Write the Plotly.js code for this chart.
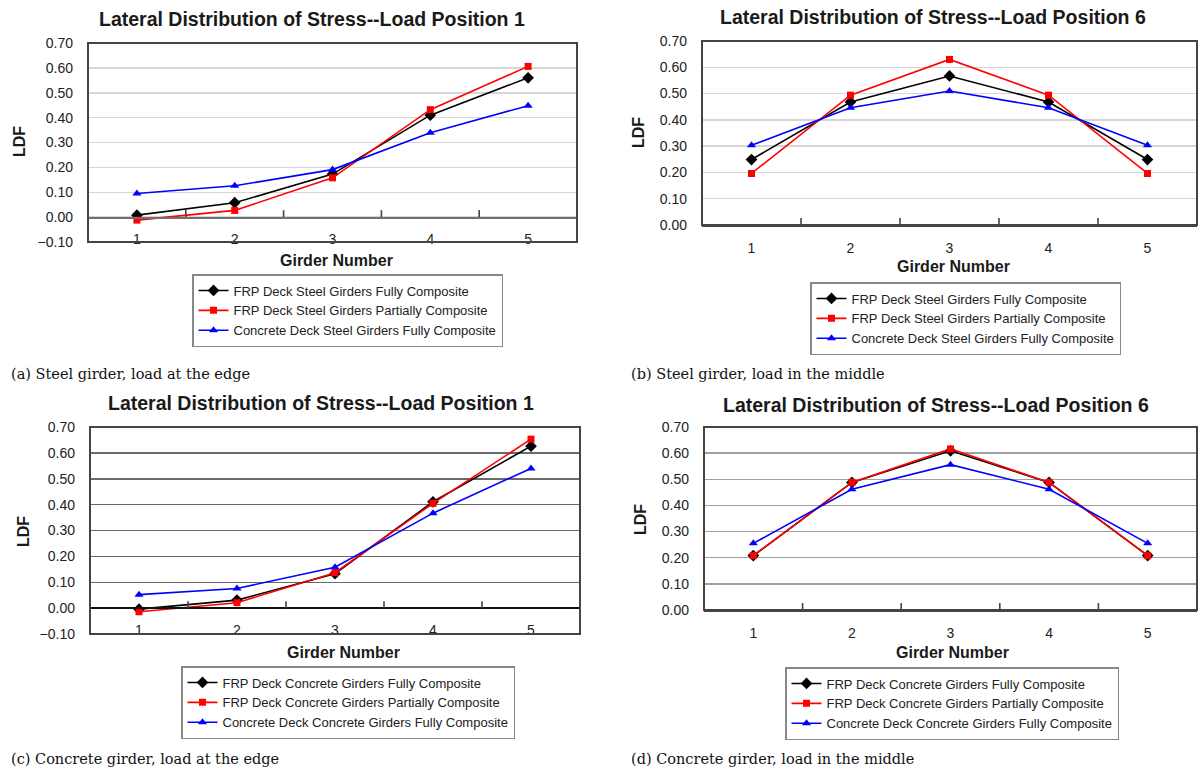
<!DOCTYPE html>
<html>
<head>
<meta charset="utf-8">
<script src="https://cdn.plot.ly/plotly-3.0.1.min.js"></script>
<style>
  html, body { margin: 0; padding: 0; background: #fff; }
  #chart { width: 1200px; height: 769px; }
</style>
</head>
<body>
<div id="chart"></div>
<script>
// ---------- data ----------
const girders = [1, 2, 3, 4, 5];

const seriesSteel = [
  "FRP Deck Steel Girders Fully Composite",
  "FRP Deck Steel Girders Partially Composite",
  "Concrete Deck Steel Girders Fully Composite"
];
const seriesConcrete = [
  "FRP Deck Concrete Girders Fully Composite",
  "FRP Deck Concrete Girders Partially Composite",
  "Concrete Deck Concrete Girders Fully Composite"
];

// (a) Steel girder, load at the edge
const a_frpFull    = [0.008, 0.058, 0.173, 0.410, 0.560];
const a_frpPartial = [-0.012, 0.027, 0.158, 0.432, 0.606];
const a_concFull   = [0.095, 0.126, 0.191, 0.339, 0.448];

// (b) Steel girder, load in the middle
const b_frpFull    = [0.249, 0.468, 0.567, 0.468, 0.249];
const b_frpPartial = [0.196, 0.494, 0.630, 0.494, 0.196];
const b_concFull   = [0.303, 0.446, 0.510, 0.446, 0.303];

// (c) Concrete girder, load at the edge
const c_frpFull    = [-0.004, 0.031, 0.133, 0.411, 0.626];
const c_frpPartial = [-0.014, 0.021, 0.137, 0.405, 0.653];
const c_concFull   = [0.052, 0.076, 0.158, 0.367, 0.540];

// (d) Concrete girder, load in the middle
const d_frpFull    = [0.208, 0.488, 0.609, 0.488, 0.208];
const d_frpPartial = [0.208, 0.488, 0.616, 0.488, 0.208];
const d_concFull   = [0.255, 0.462, 0.556, 0.462, 0.255];

const panelTitles = [
  "Lateral Distribution of Stress--Load Position 1",
  "Lateral Distribution of Stress--Load Position 6",
  "Lateral Distribution of Stress--Load Position 1",
  "Lateral Distribution of Stress--Load Position 6"
];
const captions = [
  "(a) Steel girder, load at the edge",
  "(b) Steel girder, load in the middle",
  "(c) Concrete girder, load at the edge",
  "(d) Concrete girder, load in the middle"
];
const xTitle = "Girder Number";
const yTitle = "LDF";

// ---------- layout geometry (pixels) ----------
const W = 1200, H = 769;
const px = v => v / W;
const py = v => 1 - v / H;

const panels = [
  { data: [a_frpFull, a_frpPartial, a_concFull], names: seriesSteel,
    box: [88, 577, 43, 242], yr: [-0.1, 0.7], grid: "#d6d6d6", zero: "#707070", zw: 1.5,
    title: [312, 19], ytl: [20, 142], xtl: [336, 260], leg: [192, 274], cap: [9, 374] },
  { data: [b_frpFull, b_frpPartial, b_concFull], names: seriesSteel,
    box: [702, 1197, 41, 225], yr: [0, 0.7], grid: "#d6d6d6", zero: "#444", zw: 2,
    title: [933, 17], ytl: [638, 133], xtl: [953, 266], leg: [810, 282], cap: [629, 374] },
  { data: [c_frpFull, c_frpPartial, c_concFull], names: seriesConcrete,
    box: [90, 580, 427, 634], yr: [-0.1, 0.7], grid: "#6a6a6a", zero: "#111", zw: 2,
    title: [321, 403], ytl: [23, 532], xtl: [343, 652], leg: [181, 666], cap: [9, 759] },
  { data: [d_frpFull, d_frpPartial, d_concFull], names: seriesConcrete,
    box: [704, 1197, 427, 610], yr: [0, 0.7], grid: "#a0a0a0", zero: "#444", zw: 2,
    title: [936, 405], ytl: [640, 520], xtl: [952, 652], leg: [785, 667], cap: [629, 759] }
];

const styles = [
  { color: "#000000", symbol: "diamond", size: 9 },
  { color: "#ff0000", symbol: "square", size: 7 },
  { color: "#0000ff", symbol: "triangle-up", size: 8 }
];

const traces = [];
const layout = {
  width: W, height: H,
  margin: { l: 0, r: 0, t: 0, b: 0 },
  paper_bgcolor: "#ffffff",
  plot_bgcolor: "#ffffff",
  font: { family: "Liberation Sans, Arial, sans-serif", color: "#222" },
  showlegend: true,
  annotations: [],
  shapes: []
};

// category boundaries, where the small axis tick marks sit
const boundaries = girders.slice(1).map(g => g - 0.5);

panels.forEach((p, i) => {
  const n = i + 1;
  const xa = "xaxis" + (n === 1 ? "" : n);
  const ya = "yaxis" + (n === 1 ? "" : n);
  const xr = "x" + (n === 1 ? "" : n);
  const yr = "y" + (n === 1 ? "" : n);
  const legName = "legend" + (n === 1 ? "" : n);
  const [L, R, T, B] = p.box;
  const yDom = [py(B), py(T)];
  const zeroPos = yDom[0] + (0 - p.yr[0]) / (p.yr[1] - p.yr[0]) * (yDom[1] - yDom[0]);

  p.data.forEach((vals, k) => {
    traces.push({
      type: "scatter", mode: "lines+markers",
      x: girders, y: vals, name: p.names[k],
      xaxis: xr, yaxis: yr, legend: legName,
      line: { color: styles[k].color, width: 1.6 },
      marker: { color: styles[k].color, symbol: styles[k].symbol, size: styles[k].size }
    });
  });

  const xaxis = {
    domain: [px(L), px(R)],
    range: [0.5, 5.5],
    anchor: yr,
    tickmode: "linear", tick0: 1, dtick: 1,
    ticks: "", ticklabelstandoff: 9,
    tickfont: { size: 14, color: "#222", family: "Liberation Sans, Arial, sans-serif" },
    showgrid: false, zeroline: false,
    showline: true, linecolor: p.zero, linewidth: p.zw,
    fixedrange: true
  };
  if (p.yr[0] < 0) { xaxis.anchor = "free"; xaxis.position = zeroPos; }
  layout[xa] = xaxis;

  layout[ya] = {
    domain: yDom,
    range: p.yr,
    anchor: xr,
    tickmode: "linear", tick0: 0, dtick: 0.1, tickformat: ".2f",
    ticks: "", ticklabelstandoff: 14,
    tickfont: { size: 14, color: "#222", family: "Liberation Sans, Arial, sans-serif" },
    showgrid: true, gridcolor: p.grid, gridwidth: 1.5,
    zeroline: false, showline: false,
    fixedrange: true
  };

  layout[legName] = {
    x: px(p.leg[0]), y: py(p.leg[1]), xanchor: "left", yanchor: "top",
    xref: "paper", yref: "paper",
    bgcolor: "#ffffff", bordercolor: "#888", borderwidth: 1.5,
    font: { size: 13, color: "#222", family: "Liberation Sans, Arial, sans-serif" },
    itemwidth: 30, tracegroupgap: 0
  };

  // small tick marks on the category axis at the category boundaries (pointing up)
  boundaries.forEach(b => {
    layout.shapes.push({
      type: "line", xref: xr, yref: yr,
      x0: b, x1: b, ysizemode: "pixel", yanchor: 0, y0: 0, y1: 7,
      line: { color: "#444", width: 1.6 }, layer: "above"
    });
  });

  // plot frame
  layout.shapes.push({
    type: "rect", xref: xr + " domain", yref: yr + " domain",
    x0: 0, x1: 1, y0: 0, y1: 1,
    line: { color: "#444", width: 2 }, fillcolor: "rgba(0,0,0,0)", layer: "above"
  });

  // chart title
  layout.annotations.push({
    text: "<b>" + panelTitles[i] + "</b>", xref: "paper", yref: "paper",
    x: px(p.title[0]), y: py(p.title[1]), xanchor: "center", yanchor: "middle",
    showarrow: false, font: { size: 19.5, color: "#1a1a1a", family: "Liberation Sans, Arial, sans-serif" }
  });
  // y title
  layout.annotations.push({
    text: "<b>" + yTitle + "</b>", xref: "paper", yref: "paper",
    x: px(p.ytl[0]), y: py(p.ytl[1]), xanchor: "center", yanchor: "middle",
    textangle: -90, showarrow: false,
    font: { size: 16, color: "#1a1a1a", family: "Liberation Sans, Arial, sans-serif" }
  });
  // x title
  layout.annotations.push({
    text: "<b>" + xTitle + "</b>", xref: "paper", yref: "paper",
    x: px(p.xtl[0]), y: py(p.xtl[1]), xanchor: "center", yanchor: "middle",
    showarrow: false, font: { size: 16, color: "#1a1a1a", family: "Liberation Sans, Arial, sans-serif" }
  });
  // caption
  layout.annotations.push({
    text: captions[i], xref: "paper", yref: "paper",
    x: px(p.cap[0]), y: py(p.cap[1]), xanchor: "left", yanchor: "middle",
    showarrow: false, font: { size: 14.5, color: "#111", family: "DejaVu Serif, serif" }
  });
});

Plotly.newPlot("chart", traces, layout, { displayModeBar: false, staticPlot: true });
</script>
</body>
</html>
